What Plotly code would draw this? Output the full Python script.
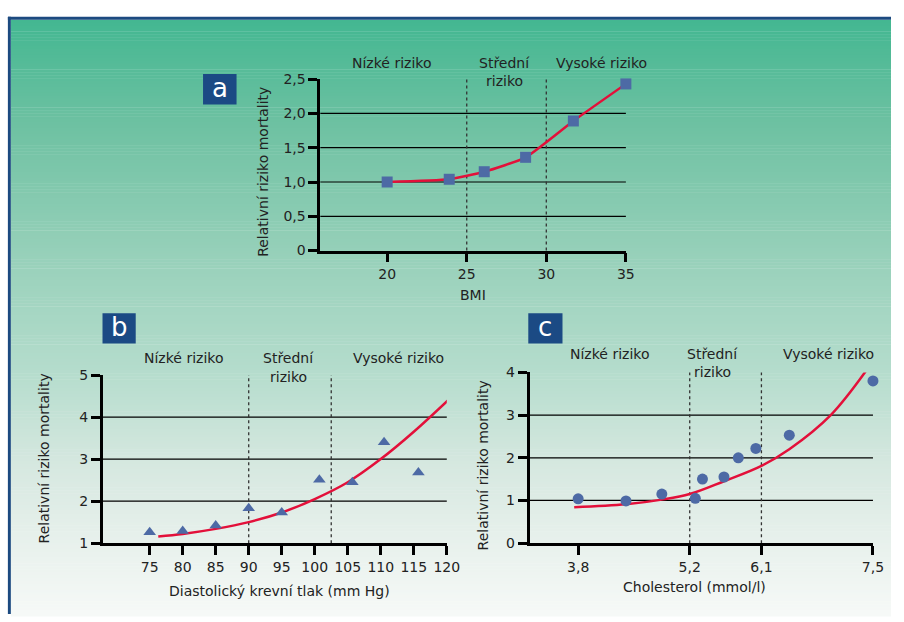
import plotly.graph_objects as go

W, H = 904, 622

# ---------------- data ----------------
# Panel a: BMI
bmi = [20, 23.9, 26.1, 28.7, 31.7, 35]
rr_a = [1.0, 1.04, 1.15, 1.36, 1.89, 2.43]
a_xticks = [20, 25, 30, 35]
a_yticks = [0, 0.5, 1.0, 1.5, 2.0, 2.5]
a_yticktext = ["0", "0,5", "1,0", "1,5", "2,0", "2,5"]
a_grid = [0.5, 1.0, 1.5, 2.0]
a_bounds = [25, 30]

# Panel b: diastolic blood pressure
dbp = [75, 80, 85, 90, 95, 100.7, 105.7, 110.5, 115.7, 121]
rr_b = [1.26, 1.29, 1.42, 1.83, 1.73, 2.51, 2.45, 3.40, 2.68, 4.54]
b_fit_x = [76.3, 80, 85, 90, 95, 100, 105, 110, 115, 120.6]
b_fit_y = [1.16, 1.22, 1.34, 1.50, 1.73, 2.05, 2.45, 3.0, 3.65, 4.46]
b_xticks = [75, 80, 85, 90, 95, 100, 105, 110, 115, 120]
b_yticks = [1, 2, 3, 4, 5]
b_grid = [2, 3, 4]
b_bounds = [90, 102.5]

# Panel c: cholesterol
chol = [3.8, 4.4, 4.85, 5.27, 5.36, 5.63, 5.81, 6.03, 6.45, 7.5]
rr_c = [1.04, 0.99, 1.15, 1.05, 1.50, 1.55, 2.0, 2.22, 2.53, 3.8]
c_fit_x = [3.75, 4.4, 4.85, 5.2, 5.63, 6.1, 6.45, 6.97, 7.43]
c_fit_y = [0.84, 0.91, 1.02, 1.15, 1.45, 1.81, 2.2, 3.0, 4.08]
c_xticks = [3.8, 5.2, 6.1, 7.5]
c_xticktext = ["3,8", "5,2", "6,1", "7,5"]
c_yticks = [0, 1, 2, 3, 4]
c_grid = [1, 2, 3]
c_bounds = [5.2, 6.1]

zone_labels = ["Nízké riziko", "Střední", "riziko", "Vysoké riziko"]
ytitle = "Relativní riziko mortality"
xtitles = ["BMI", "Diastolický krevní tlak (mm Hg)", "Cholesterol (mmol/l)"]
panel_letters = ["a", "b", "c"]

# ---------------- style ----------------
FONT = "DejaVu Sans"
TXT = "#222222"
RED = "#e3103a"
MARK = "#4d6aa5"
NAVY = "#1b4a84"


def px(x):
    return x / W


def py(y):
    return 1 - y / H


fig = go.Figure()

# panel a
fig.add_trace(go.Scatter(x=bmi, y=rr_a, mode="lines", line=dict(color=RED, width=2.5, shape="spline", smoothing=0.5),
                         xaxis="x", yaxis="y", cliponaxis=False, showlegend=False, hoverinfo="skip"))
fig.add_trace(go.Scatter(x=bmi, y=rr_a, mode="markers", marker=dict(symbol="square", size=11, color=MARK),
                         xaxis="x", yaxis="y", cliponaxis=False, showlegend=False))
# panel b
fig.add_trace(go.Scatter(x=b_fit_x, y=b_fit_y, mode="lines", line=dict(color=RED, width=2.5, shape="spline"),
                         xaxis="x2", yaxis="y2", cliponaxis=False, showlegend=False, hoverinfo="skip"))
fig.add_trace(go.Scatter(x=dbp, y=rr_b, mode="markers", marker=dict(symbol="triangle-up", size=11, color=MARK),
                         xaxis="x2", yaxis="y2", cliponaxis=False, showlegend=False))
# panel c
fig.add_trace(go.Scatter(x=c_fit_x, y=c_fit_y, mode="lines", line=dict(color=RED, width=2.5, shape="spline"),
                         xaxis="x3", yaxis="y3", cliponaxis=False, showlegend=False, hoverinfo="skip"))
fig.add_trace(go.Scatter(x=chol, y=rr_c, mode="markers", marker=dict(symbol="circle", size=11, color=MARK),
                         xaxis="x3", yaxis="y3", cliponaxis=False, showlegend=False))


def ax(**kw):
    d = dict(showline=True, linecolor="black", linewidth=2.7, ticks="outside", ticklen=9, tickwidth=2.7,
             tickcolor="black", showgrid=False, zeroline=False,
             tickfont=dict(family=FONT, size=14, color=TXT), fixedrange=True)
    d.update(kw)
    return d


layout = dict(
    width=W, height=H, margin=dict(l=0, r=0, t=0, b=0), autosize=False,
    paper_bgcolor="white", plot_bgcolor="rgba(0,0,0,0)",
    font=dict(family=FONT, size=14, color=TXT),
    xaxis=ax(domain=[px(325), px(635)], range=[15.8, 35], tickvals=a_xticks, anchor="y"),
    yaxis=ax(domain=[py(249), py(73)], range=[0, 2.5], tickvals=a_yticks, ticktext=a_yticktext, anchor="x"),
    xaxis2=ax(domain=[px(104.3), px(453.3)], range=[67.9, 120], tickvals=b_xticks, anchor="y2"),
    yaxis2=ax(domain=[py(549.3), py(376.7)], range=[1, 5], tickvals=b_yticks, anchor="x2"),
    xaxis3=ax(domain=[px(537.3), px(885.7)], range=[3.19, 7.5], tickvals=c_xticks, ticktext=c_xticktext, anchor="y3"),
    yaxis3=ax(domain=[py(549.3), py(374)], range=[0, 4], tickvals=c_yticks, anchor="x3"),
)

shapes = []
# background gradient
stops_y = [12, 120, 250, 370, 470, 540, 622]
stops_c = [(67, 183, 145), (110, 193, 162), (150, 208, 185), (180, 220, 204), (214, 232, 224), (230, 240, 235),
           (246, 249, 247)]


def bg_col(y):
    for i in range(len(stops_y) - 1):
        if stops_y[i] <= y <= stops_y[i + 1]:
            t = (y - stops_y[i]) / (stops_y[i + 1] - stops_y[i])
            c = [round(stops_c[i][k] + t * (stops_c[i + 1][k] - stops_c[i][k])) for k in range(3)]
            return "rgb(%d,%d,%d)" % tuple(c)
    return "rgb(%d,%d,%d)" % stops_c[-1]


step = 3
for y0 in range(12, 622, step):
    shapes.append(dict(type="rect", xref="paper", yref="paper", x0=px(11), x1=1, y0=py(y0 + step + 0.5), y1=py(y0),
                       fillcolor=bg_col(y0 + step / 2), line=dict(width=0), layer="below"))
# border
shapes.append(dict(type="rect", xref="paper", yref="paper", x0=px(8), x1=1, y0=py(12), y1=py(9),
                   fillcolor="#1c4a80", line=dict(width=0), layer="below"))
shapes.append(dict(type="rect", xref="paper", yref="paper", x0=px(8), x1=px(11), y0=0, y1=py(9),
                   fillcolor="#1c4a80", line=dict(width=0), layer="below"))

# grid lines and zone boundaries
for (xa, ya, grid, bounds) in [("x", "y", a_grid, a_bounds), ("x2", "y2", b_grid, b_bounds),
                                ("x3", "y3", c_grid, c_bounds)]:
    for g in grid:
        shapes.append(dict(type="line", xref=xa + " domain", yref=ya, x0=0, x1=1, y0=g, y1=g,
                           line=dict(color="black", width=1.2), layer="below"))
    for b in bounds:
        shapes.append(dict(type="line", xref=xa, yref=ya + " domain", x0=b, x1=b, y0=0, y1=1,
                           line=dict(color="#333333", width=1.3, dash="dot"), layer="below"))

# letter boxes
boxes = [(206, 240, 67.7, 99), (104, 137.7, 313.3, 344.3), (536, 570.7, 313.3, 344.3)]
for (x0, x1, y0, y1) in boxes:
    shapes.append(dict(type="rect", xref="paper", yref="paper", x0=px(x0), x1=px(x1), y0=py(y1), y1=py(y0),
                       fillcolor=NAVY, line=dict(width=0)))

annotations = []


def ann(text, x, y, size=14, color=TXT, angle=0):
    annotations.append(dict(text=text, x=px(x), y=py(y), xref="paper", yref="paper", showarrow=False,
                            xanchor="center", yanchor="middle", textangle=angle,
                            font=dict(family=FONT, size=size, color=color)))


for letter, (x0, x1, y0, y1) in zip(panel_letters, boxes):
    ann(letter, (x0 + x1) / 2, (y0 + y1) / 2 - 1, size=26, color="white")

zone_pos = [
    [(397, 56), (512, 56), (512, 75), (610, 56)],
    [(185.7, 359.3), (292.3, 359.3), (292.3, 378.3), (404.3, 359.3)],
    [(618.3, 355), (723.3, 355), (723.3, 374), (841, 355)],
]
for poss in zone_pos:
    for t, (x, y) in zip(zone_labels, poss):
        ann(t, x, y)

ytitle_pos = [(267, 168), (45, 462), (489.5, 469)]
for (x, y) in ytitle_pos:
    ann(ytitle, x, y, angle=-90)
xtitle_pos = [(480, 295), (284, 598), (705, 594)]
for t, (x, y) in zip(xtitles, xtitle_pos):
    ann(t, x, y)

layout["shapes"] = shapes
layout["annotations"] = annotations
fig.update_layout(**layout)
fig.write_html("out.html", config={"responsive": False, "displayModeBar": False},
               post_script="document.body.style.margin='0px';document.body.style.overflow='hidden';")
